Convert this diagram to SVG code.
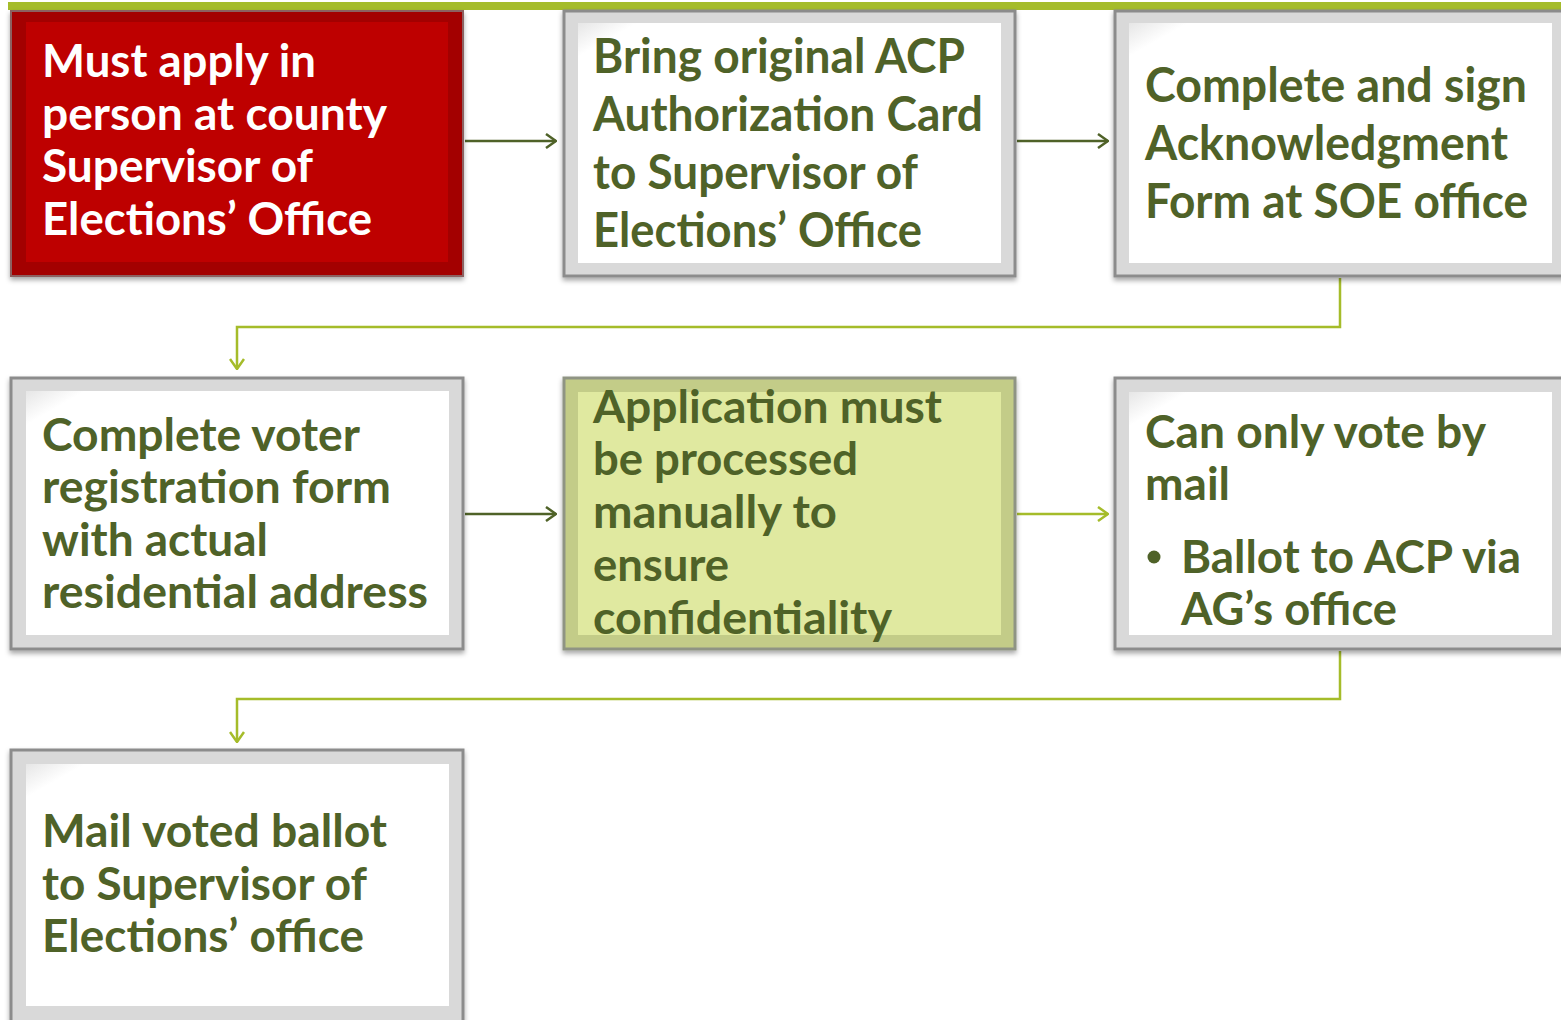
<svg xmlns="http://www.w3.org/2000/svg" width="1561" height="1020" viewBox="0 0 1561 1020">
<style>
.t{font-family:Lato,"Open Sans","Liberation Sans",sans-serif;font-weight:700;font-size:45px;fill:#4f6228}
.big{font-size:48px}
.w{fill:#ffffff}
.frame{fill:#d9d9d9;stroke:#8c8c8c;stroke-width:3}
.inner{fill:url(#ig)}
.dk{fill:none;stroke:#4f6228;stroke-width:2.5}
.lt{fill:none;stroke:#a5bc2a;stroke-width:2.5}
</style>
<defs>
<filter id="sh" x="-5%" y="-5%" width="110%" height="115%">
<feDropShadow dx="0" dy="3" stdDeviation="2.5" flood-color="#000" flood-opacity="0.35"/>
</filter>
<linearGradient id="ig" x1="0" y1="0" x2="1" y2="1">
<stop offset="0" stop-color="#e6e6e6"/>
<stop offset="0.07" stop-color="#ffffff"/>
<stop offset="1" stop-color="#ffffff"/>
</linearGradient>
<marker id="ad" viewBox="0 0 12 16" refX="11" refY="8" markerWidth="12" markerHeight="16" markerUnits="userSpaceOnUse" orient="auto">
<path d="M1,1 L11,8 L1,15" fill="none" stroke="#4f6228" stroke-width="2.5"/>
</marker>
<marker id="al" viewBox="0 0 12 16" refX="11" refY="8" markerWidth="12" markerHeight="16" markerUnits="userSpaceOnUse" orient="auto">
<path d="M1,1 L11,8 L1,15" fill="none" stroke="#a5bc2a" stroke-width="2.5"/>
</marker>
</defs>
<rect x="0" y="0" width="1561" height="1020" fill="#ffffff"/>
<rect x="8" y="2" width="1553" height="8" fill="#a5bc2a"/>

<g id="connectors">
<line class="dk" x1="465" y1="141" x2="556" y2="141" marker-end="url(#ad)"/>
<line class="dk" x1="1017" y1="141" x2="1108" y2="141" marker-end="url(#ad)"/>
<polyline class="lt" points="1340,278 1340,327 237,327 237,369" marker-end="url(#al)"/>
<line class="dk" x1="465" y1="514" x2="556" y2="514" marker-end="url(#ad)"/>
<line class="lt" x1="1017" y1="514" x2="1108" y2="514" marker-end="url(#al)"/>
<polyline class="lt" points="1340,651 1340,699 237,699 237,742" marker-end="url(#al)"/>
</g>

<g id="n1">
<rect x="11" y="11" width="452" height="265" fill="#a30000" stroke="#8c6060" stroke-width="2" filter="url(#sh)"/>
<rect x="26" y="22" width="422" height="240" fill="#be0000"/>
<text class="t w" x="42" y="77" textLength="274" lengthAdjust="spacingAndGlyphs">Must apply in</text>
<text class="t w" x="42" y="130" textLength="345" lengthAdjust="spacingAndGlyphs">person at county</text>
<text class="t w" x="42" y="182" textLength="271" lengthAdjust="spacingAndGlyphs">Supervisor of</text>
<text class="t w" x="42" y="235" textLength="330" lengthAdjust="spacingAndGlyphs">Elections’ Office</text>
</g>

<g id="n2">
<rect class="frame" x="564" y="11" width="451" height="265" filter="url(#sh)"/>
<rect class="inner" x="578" y="23" width="423" height="240"/>
<text class="t big" x="593" y="73" textLength="372" lengthAdjust="spacingAndGlyphs">Bring original ACP</text>
<text class="t big" x="593" y="131" textLength="390" lengthAdjust="spacingAndGlyphs">Authorization Card</text>
<text class="t big" x="593" y="189" textLength="325" lengthAdjust="spacingAndGlyphs">to Supervisor of</text>
<text class="t big" x="593" y="247" textLength="329" lengthAdjust="spacingAndGlyphs">Elections’ Office</text>
</g>

<g id="n3">
<rect class="frame" x="1115" y="11" width="460" height="265" filter="url(#sh)"/>
<rect class="inner" x="1129" y="23" width="423" height="240"/>
<text class="t big" x="1145" y="102" textLength="382" lengthAdjust="spacingAndGlyphs">Complete and sign</text>
<text class="t big" x="1145" y="160" textLength="363" lengthAdjust="spacingAndGlyphs">Acknowledgment</text>
<text class="t big" x="1145" y="218" textLength="383" lengthAdjust="spacingAndGlyphs">Form at SOE office</text>
</g>

<g id="n4">
<rect class="frame" x="11" y="378" width="452" height="271" filter="url(#sh)"/>
<rect class="inner" x="26" y="391" width="423" height="244"/>
<text class="t" x="42" y="451" textLength="318" lengthAdjust="spacingAndGlyphs">Complete voter</text>
<text class="t" x="42" y="503" textLength="349" lengthAdjust="spacingAndGlyphs">registration form</text>
<text class="t" x="42" y="556" textLength="226" lengthAdjust="spacingAndGlyphs">with actual</text>
<text class="t" x="42" y="608" textLength="386" lengthAdjust="spacingAndGlyphs">residential address</text>
</g>

<g id="n5">
<rect x="564" y="378" width="451" height="271" fill="#c3cc88" stroke="#8f9484" stroke-width="3" filter="url(#sh)"/>
<rect x="578" y="392" width="423" height="243" fill="#e0e9a0"/>
<text class="t" x="593" y="423" textLength="349" lengthAdjust="spacingAndGlyphs">Application must</text>
<text class="t" x="593" y="475" textLength="265" lengthAdjust="spacingAndGlyphs">be processed</text>
<text class="t" x="593" y="528" textLength="244" lengthAdjust="spacingAndGlyphs">manually to</text>
<text class="t" x="593" y="581" textLength="136" lengthAdjust="spacingAndGlyphs">ensure</text>
<text class="t" x="593" y="634" textLength="299" lengthAdjust="spacingAndGlyphs">confidentiality</text>
</g>

<g id="n6">
<rect class="frame" x="1115" y="378" width="460" height="271" filter="url(#sh)"/>
<rect class="inner" x="1129" y="392" width="423" height="243"/>
<text class="t" x="1145" y="448" textLength="341" lengthAdjust="spacingAndGlyphs">Can only vote by</text>
<text class="t" x="1145" y="500" textLength="85" lengthAdjust="spacingAndGlyphs">mail</text>
<circle cx="1154" cy="557" r="6.5" fill="#4f6228"/>
<text class="t" x="1181" y="573" textLength="340" lengthAdjust="spacingAndGlyphs">Ballot to ACP via</text>
<text class="t" x="1181" y="625" textLength="216" lengthAdjust="spacingAndGlyphs">AG’s office</text>
</g>

<g id="n7">
<rect class="frame" x="11" y="750" width="452" height="280" filter="url(#sh)"/>
<rect class="inner" x="26" y="764" width="423" height="242"/>
<text class="t" x="42" y="847" textLength="345" lengthAdjust="spacingAndGlyphs">Mail voted ballot</text>
<text class="t" x="42" y="900" textLength="325" lengthAdjust="spacingAndGlyphs">to Supervisor of</text>
<text class="t" x="42" y="952" textLength="322" lengthAdjust="spacingAndGlyphs">Elections’ office</text>
</g>
</svg>
